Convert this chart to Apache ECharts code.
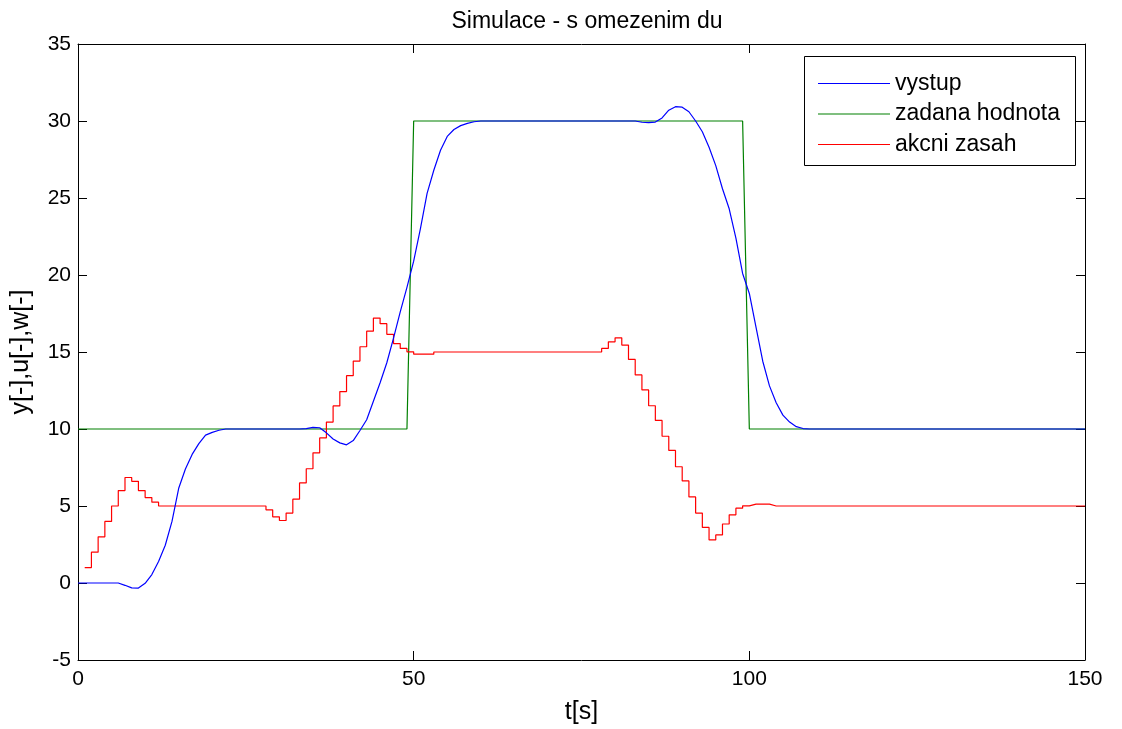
<!DOCTYPE html>
<html>
<head>
<meta charset="utf-8">
<script src="https://cdn.jsdelivr.net/npm/echarts@6/dist/echarts.min.js"></script>
<style>
html,body{margin:0;padding:0;background:#fff;}
#chart{width:1122px;height:729px;}
</style>
</head>
<body>
<div id="chart"></div>
<script>
// ---- data ----
const titleText = 'Simulace - s omezenim du';
const xTicks = [0, 50, 100, 150];
const yTicks = [-5, 0, 5, 10, 15, 20, 25, 30, 35];
const seriesNames = ['vystup', 'zadana hodnota', 'akcni zasah'];

// vystup (y), sampled at t = 0,1,2,...,150
const blueStart = 0;
const vystup = [
  0, 0, 0, 0, 0, 0, 0,
  -0.15, -0.32, -0.33, -0.02, 0.55, 1.4, 2.45, 4.0, 6.15, 7.4, 8.35, 9.05, 9.6, 9.78, 9.92, 10.0,
  10, 10, 10, 10, 10, 10, 10, 10, 10, 10, 10,
  10.03, 10.1, 10.08, 9.75, 9.35, 9.1, 8.97, 9.25, 9.9, 10.6, 11.8, 13.0, 14.3, 15.9, 17.6, 19.2,
  20.9, 23.0, 25.3, 26.8, 28.1, 29.0, 29.45, 29.7, 29.85, 29.95,
  30, 30, 30, 30, 30, 30, 30, 30, 30, 30, 30, 30, 30, 30, 30, 30, 30, 30, 30, 30, 30, 30, 30, 30,
  29.92, 29.9, 29.93, 30.2, 30.7, 30.93, 30.9, 30.6, 30.0, 29.3, 28.3, 27.1, 25.6, 24.3, 22.4, 20.1,
  18.8, 16.6, 14.4, 12.8, 11.7, 10.9, 10.45, 10.15, 10.03,
  10, 10, 10, 10, 10, 10, 10, 10, 10, 10, 10, 10, 10, 10, 10, 10, 10, 10, 10, 10, 10,
  10, 10, 10, 10, 10, 10, 10, 10, 10, 10, 10, 10, 10, 10, 10, 10, 10, 10, 10, 10, 10
];

// zadana hodnota (w): corner points
const wTimes  = [0, 49, 50, 99, 100, 150];
const wValues = [10, 10, 30, 30, 10, 10];

// akcni zasah (u), staircase, sampled at t = 1,2,...,150
const redStart = 1;
const akcni = [
  1, 2, 3, 4, 5, 6, 6.85, 6.6, 6.0, 5.55, 5.25,
  5, 5, 5, 5, 5, 5, 5, 5, 5, 5, 5, 5, 5, 5, 5, 5,
  4.75, 4.3, 4.06, 4.54, 5.44, 6.5, 7.42, 8.45, 9.42, 10.45, 11.5, 12.43, 13.46, 14.41, 15.34,
  16.35, 17.2, 16.84, 16.15, 15.55, 15.23, 15.01, 14.86, 14.86, 14.86,
  15, 15, 15, 15, 15, 15, 15, 15, 15, 15, 15, 15, 15, 15, 15, 15, 15, 15, 15, 15, 15, 15, 15, 15, 15,
  15.23, 15.66, 15.92, 15.45, 14.52, 13.51, 12.54, 11.51, 10.56, 9.53, 8.61, 7.55, 6.63, 5.59, 4.54,
  3.61, 2.8, 3.12, 3.83, 4.43, 4.86, 5.01, 5.12, 5.12, 5.12,
  5, 5, 5, 5, 5, 5, 5, 5, 5, 5, 5, 5, 5, 5, 5, 5, 5, 5, 5, 5, 5, 5, 5, 5,
  5, 5, 5, 5, 5, 5, 5, 5, 5, 5, 5, 5, 5, 5, 5, 5, 5, 5, 5, 5, 5, 5, 5, 5
];

// ---- build chart ----
const FONT = 'Liberation Sans, Arial, sans-serif';
const blueData = vystup.map((v, i) => [blueStart + i, v]);
const greenData = wTimes.map((t, i) => [t, wValues[i]]);
const redData = akcni.map((v, i) => [redStart + i, v]);

function xAx(pos, showLabel) {
  return {
    type: 'value', position: pos, min: xTicks[0], max: xTicks[xTicks.length - 1],
    interval: xTicks[1] - xTicks[0],
    name: pos === 'bottom' ? 't[s]' : '', nameLocation: 'middle', nameGap: 40,
    nameTextStyle: { fontFamily: FONT, fontSize: 25, color: '#000' },
    axisLine: { show: true, onZero: false, lineStyle: { color: '#000', width: 1 } },
    axisTick: { show: true, inside: true, length: 9, lineStyle: { color: '#000' } },
    axisLabel: { show: showLabel, fontFamily: FONT, fontSize: 21, color: '#000', margin: 9 },
    splitLine: { show: false }
  };
}
function yAx(pos, showLabel) {
  return {
    type: 'value', position: pos, min: yTicks[0], max: yTicks[yTicks.length - 1],
    interval: yTicks[1] - yTicks[0],
    name: pos === 'left' ? 'y[-],u[-],w[-]' : '', nameLocation: 'middle', nameGap: 44, nameRotate: 90,
    nameTextStyle: { fontFamily: FONT, fontSize: 25, color: '#000' },
    axisLine: { show: true, onZero: false, lineStyle: { color: '#000', width: 1 } },
    axisTick: { show: true, inside: true, length: 9, lineStyle: { color: '#000' } },
    axisLabel: { show: showLabel, fontFamily: FONT, fontSize: 21, color: '#000', margin: 7 },
    splitLine: { show: false }
  };
}

const chart = echarts.init(document.getElementById('chart'), null, { renderer: 'canvas' });
chart.setOption({
  animation: false,
  backgroundColor: '#fff',
  title: {
    text: titleText, left: 582, top: 5, textAlign: 'center',
    textStyle: { fontFamily: FONT, fontSize: 23, fontWeight: 'normal', color: '#000' }
  },
  grid: { left: 78, right: 37, top: 44, bottom: 69, containLabel: false, outerBoundsMode: 'none' },
  xAxis: [xAx('bottom', true), xAx('top', false)],
  yAxis: [yAx('left', true), yAx('right', false)],
  legend: {
    orient: 'vertical', left: 813, top: 67, z: 10,
    itemWidth: 72, itemHeight: 12, itemGap: 7.5,
    textStyle: { fontFamily: FONT, fontSize: 23, color: '#000' },
    data: seriesNames.map(n => ({ name: n, icon: 'path://M0,0 L72,0 L72,1 L0,1 Z' }))
  },
  graphic: [{
    type: 'rect', z: 5, left: 804, top: 56,
    shape: { width: 271, height: 109 },
    style: { fill: '#fff', stroke: '#000', lineWidth: 1 }
  }],
  series: [
    { name: seriesNames[0], type: 'line', data: blueData, symbol: 'none', color: '#0000ff',
      lineStyle: { width: 1.2, color: '#0000ff' }, z: 3 },
    { name: seriesNames[1], type: 'line', data: greenData, symbol: 'none', color: '#008000',
      lineStyle: { width: 1.2, color: '#008000' }, z: 2 },
    { name: seriesNames[2], type: 'line', data: redData, step: 'end', symbol: 'none', color: '#ff0000',
      lineStyle: { width: 1.2, color: '#ff0000' }, z: 2 }
  ]
});
</script>
</body>
</html>
